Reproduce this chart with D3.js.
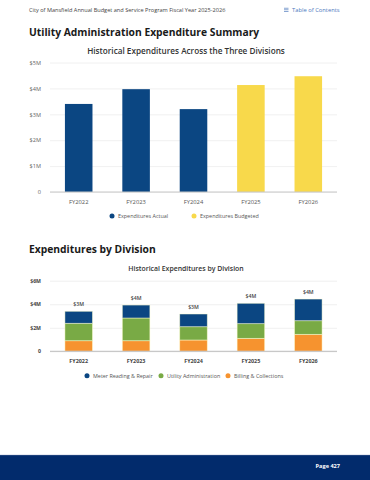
<!DOCTYPE html>
<html>
<head>
<meta charset="utf-8">
<script src="https://cdn.jsdelivr.net/npm/d3@7"></script>
<style>
  html, body { margin: 0; padding: 0; background: #fff; }
  svg { display: block; font-family: "Open Sans", sans-serif; }
</style>
</head>
<body>
<svg id="page" width="370" height="480"></svg>
<script>
'use strict';

// chart 1: total expenditures
const years = ['FY2022', 'FY2023', 'FY2024', 'FY2025', 'FY2026'];
const totals = [3.40, 3.97, 3.20, 4.13, 4.47];
const totalKinds = ['actual', 'actual', 'actual', 'budget', 'budget'];
const totalTicks = [0, 1, 2, 3, 4, 5];

// chart 2: expenditures by division (millions)
const divisions = ['Meter Reading & Repair', 'Utility Administration', 'Billing & Collections'];
const billing = [0.90, 0.90, 0.96, 1.10, 1.44];
const utilityAdmin = [1.48, 1.93, 1.13, 1.25, 1.16];
const meterReading = [1.02, 1.10, 1.08, 1.73, 1.84];
const totalLabels = ['$3M', '$4M', '$3M', '$4M', '$4M'];
const divisionTicks = [0, 2, 4, 6];

const BLUE = '#0b4682';
const YELLOW = '#f8d94b';
const GREEN = '#79aa45';
const ORANGE = '#f6932f';
const GRID = '#ececec';

const svg = d3.select('#page');

// page header
svg.append('text')
    .attr('x', 29).attr('y', 12)
    .attr('font-size', 5.6).attr('fill', '#444')
    .text('City of Mansfield Annual Budget and Service Program Fiscal Year 2025-2026');

const toc = svg.append('g').attr('transform', 'translate(284,12)');
[-4.2, -2.6, -1].forEach(dy => {
    toc.append('rect').attr('x', 0).attr('y', dy).attr('width', 4.5).attr('height', 0.8).attr('fill', '#6b8fc7');
});
toc.append('text')
    .attr('x', 8).attr('y', 0)
    .attr('font-size', 5.8).attr('fill', '#4b78c0')
    .text('Table of Contents');

function sectionTitle(text, y) {
    svg.append('text')
        .attr('x', 29).attr('y', y)
        .attr('font-size', 10.3).attr('font-weight', 700).attr('fill', '#1a1a1a')
        .text(text);
}

function chartTitle(text, y, size) {
    svg.append('text')
        .attr('x', 186).attr('y', y)
        .attr('text-anchor', 'middle')
        .attr('font-size', size).attr('font-weight', 600).attr('fill', '#333')
        .text(text);
}

sectionTitle('Utility Administration Expenditure Summary', 36);
chartTitle('Historical Expenditures Across the Three Divisions', 54, 8.2);

// ---- chart 1 ----
const x1 = d3.scaleBand()
    .domain(years)
    .range([50, 337])
    .paddingInner(0.52)
    .paddingOuter(0.26);

const y1 = d3.scaleLinear()
    .domain([0, 5])
    .range([192, 62.5]);

const g1 = svg.append('g');

g1.append('g')
    .attr('transform', 'translate(50,0)')
    .call(d3.axisLeft(y1).tickValues(totalTicks)
        .tickSize(-287)
        .tickFormat(d => d === 0 ? '0' : '$' + d + 'M'))
    .call(g => g.select('.domain').remove())
    .call(g => g.selectAll('.tick line').attr('stroke', GRID).attr('stroke-width', 0.8))
    .call(g => g.selectAll('.tick text')
        .attr('x', -9).attr('font-size', 5.6).attr('fill', '#666')
        .attr('font-family', '"Open Sans", sans-serif'));

g1.selectAll('.bar')
    .data(years)
    .enter()
    .append('rect')
    .attr('class', 'bar')
    .attr('x', d => x1(d))
    .attr('y', (d, i) => y1(totals[i]))
    .attr('width', x1.bandwidth())
    .attr('height', (d, i) => y1(0) - y1(totals[i]))
    .attr('fill', (d, i) => totalKinds[i] === 'actual' ? BLUE : YELLOW);

g1.append('line')
    .attr('x1', 50).attr('x2', 337)
    .attr('y1', y1(0)).attr('y2', y1(0))
    .attr('stroke', '#c8c8c8').attr('stroke-width', 1.2);

g1.append('g')
    .attr('transform', 'translate(0,' + y1(0) + ')')
    .call(d3.axisBottom(x1).tickSize(0))
    .call(g => g.select('.domain').remove())
    .call(g => g.selectAll('.tick text')
        .attr('y', 8).attr('font-size', 5.8).attr('fill', '#555')
        .attr('font-family', '"Open Sans", sans-serif'));

const legend1 = [
    {label: 'Expenditures Actual', color: BLUE, x: 112},
    {label: 'Expenditures Budgeted', color: YELLOW, x: 194}
];
legend1.forEach(item => {
    svg.append('circle').attr('cx', item.x).attr('cy', 216).attr('r', 2.5).attr('fill', item.color);
    svg.append('text')
        .attr('x', item.x + 6).attr('y', 218)
        .attr('font-size', 5.4).attr('fill', '#555')
        .text(item.label);
});

// ---- chart 2 ----
sectionTitle('Expenditures by Division', 253);
chartTitle('Historical Expenditures by Division', 271, 6.9);

const x2 = d3.scaleBand()
    .domain(years)
    .range([50, 337])
    .paddingInner(0.52)
    .paddingOuter(0.26);

const y2 = d3.scaleLinear()
    .domain([0, 6])
    .range([351.3, 280.7]);

const g2 = svg.append('g');

g2.append('g')
    .attr('transform', 'translate(50,0)')
    .call(d3.axisLeft(y2).tickValues(divisionTicks)
        .tickSize(-287)
        .tickFormat(d => d === 0 ? '0' : '$' + d + 'M'))
    .call(g => g.select('.domain').remove())
    .call(g => g.selectAll('.tick line').attr('stroke', GRID).attr('stroke-width', 0.8))
    .call(g => g.selectAll('.tick text')
        .attr('x', -9).attr('font-size', 5.2).attr('font-weight', 700).attr('fill', '#444')
        .attr('font-family', '"Open Sans", sans-serif'));

const rows = years.map((year, i) => ({
    year: year,
    billing: billing[i],
    utility: utilityAdmin[i],
    meter: meterReading[i]
}));

const stack = d3.stack().keys(['billing', 'utility', 'meter'])(rows);
const stackColors = {billing: ORANGE, utility: GREEN, meter: BLUE};

g2.selectAll('.layer')
    .data(stack)
    .enter()
    .append('g')
    .attr('class', 'layer')
    .attr('fill', d => stackColors[d.key])
    .selectAll('rect')
    .data(d => d)
    .enter()
    .append('rect')
    .attr('x', d => x2(d.data.year))
    .attr('y', d => y2(d[1]))
    .attr('width', x2.bandwidth())
    .attr('height', d => y2(d[0]) - y2(d[1]))
    .attr('stroke', 'rgba(255,255,210,0.6)')
    .attr('stroke-width', 0.8);

g2.selectAll('.total-label')
    .data(rows)
    .enter()
    .append('text')
    .attr('class', 'total-label')
    .attr('x', d => x2(d.year) + x2.bandwidth() / 2)
    .attr('y', d => y2(d.billing + d.utility + d.meter) - 5)
    .attr('text-anchor', 'middle')
    .attr('font-size', 5.2).attr('font-weight', 600).attr('fill', '#444')
    .text((d, i) => totalLabels[i]);

g2.append('line')
    .attr('x1', 50).attr('x2', 337)
    .attr('y1', y2(0)).attr('y2', y2(0))
    .attr('stroke', '#c8c8c8').attr('stroke-width', 1.2);

g2.append('g')
    .attr('transform', 'translate(0,' + y2(0) + ')')
    .call(d3.axisBottom(x2).tickSize(0))
    .call(g => g.select('.domain').remove())
    .call(g => g.selectAll('.tick text')
        .attr('y', 8).attr('font-size', 5.4).attr('font-weight', 700).attr('fill', '#444')
        .attr('font-family', '"Open Sans", sans-serif'));

const legend2 = [
    {label: divisions[0], color: BLUE, x: 87},
    {label: divisions[1], color: GREEN, x: 161},
    {label: divisions[2], color: ORANGE, x: 228}
];
legend2.forEach(item => {
    svg.append('circle').attr('cx', item.x).attr('cy', 375.7).attr('r', 2.5).attr('fill', item.color);
    svg.append('text')
        .attr('x', item.x + 6).attr('y', 377.7)
        .attr('font-size', 5.4).attr('fill', '#555')
        .text(item.label);
});

// footer
svg.append('rect')
    .attr('x', 0).attr('y', 455).attr('width', 370).attr('height', 25)
    .attr('fill', '#022b6c');
svg.append('line')
    .attr('x1', 0).attr('x2', 370).attr('y1', 455.3).attr('y2', 455.3)
    .attr('stroke', '#3a5a8f').attr('stroke-width', 0.6);
svg.append('text')
    .attr('x', 340).attr('y', 468)
    .attr('text-anchor', 'end')
    .attr('font-size', 5.6).attr('font-weight', 700).attr('fill', '#fff')
    .text('Page 427');
</script>
</body>
</html>
